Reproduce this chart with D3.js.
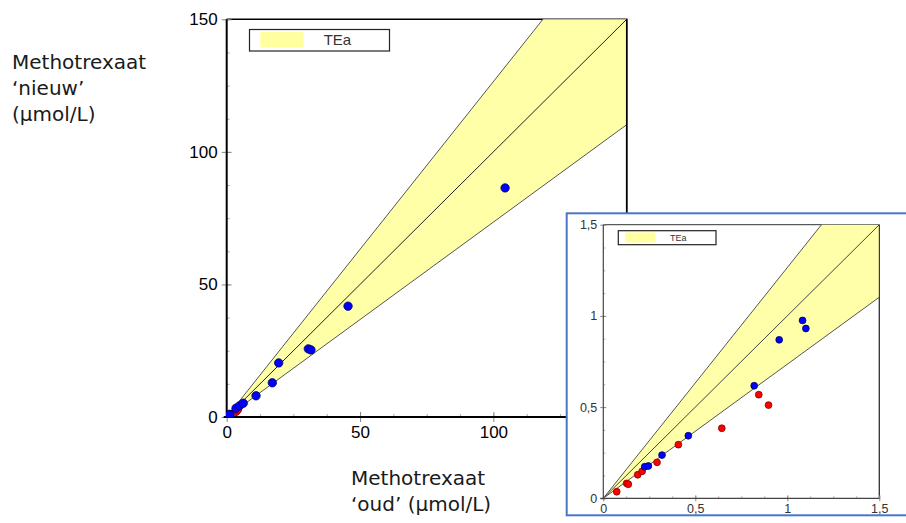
<!DOCTYPE html>
<html>
<head>
<meta charset="utf-8">
<script src="https://cdn.jsdelivr.net/npm/d3@7"></script>
<style>
  body { margin: 0; background: #fff; }
  svg { display: block; }
</style>
</head>
<body>
<div id="chart"></div>
<script>
// data (oud, nieuw) in umol/L
var mainTicks = [0, 50, 100, 150];
var mainTickLabels = ["0", "50", "100", "150"];
var insetTicks = [0, 0.5, 1, 1.5];
var insetTickLabels = ["0", "0,5", "1", "1,5"];

var tea = 0.265; // total allowable error, band around y = x

// low range samples (shown in the zoom inset)
var redLowX = [0.073, 0.127, 0.136, 0.187, 0.211, 0.292, 0.408, 0.644, 0.845, 0.898];
var redLowY = [0.036, 0.082, 0.077, 0.129, 0.148, 0.197, 0.294, 0.384, 0.568, 0.511];
var blueLowX = [0.225, 0.245, 0.319, 0.462, 0.820, 0.956, 1.083, 1.101];
var blueLowY = [0.173, 0.177, 0.237, 0.343, 0.617, 0.869, 0.975, 0.931];

// high range samples (main chart only)
var redHighX = [3.4, 4.0];
var redHighY = [2.1, 2.7];
var blueHighX = [3.5, 4.8, 6.2, 11.0, 17.1, 19.5, 30.6, 31.6, 45.5, 104.4];
var blueHighY = [3.3, 4.2, 5.2, 8.0, 12.9, 20.4, 25.7, 25.3, 41.8, 86.4];

var yTitle = ["Methotrexaat", "\u2018nieuw\u2019", "(\u00b5mol/L)"];
var xTitle = ["Methotrexaat", "\u2018oud\u2019 (\u00b5mol/L)"];
var legendLabel = "TEa";

var zip = function(xs, ys){ return xs.map(function(v, i){ return [v, ys[i]]; }); };

var svg = d3.select("#chart").append("svg")
    .attr("width", 906)
    .attr("height", 523);

// one scatter panel with the TEa band
var drawPanel = function(g, o){
    var x = d3.scaleLinear().domain([0, o.max]).range([o.left, o.right]);
    var y = d3.scaleLinear().domain([0, o.max]).range([o.bottom, o.top]);

    g.append("clipPath").attr("id", o.id + "_clip")
        .append("rect")
        .attr("x", o.left).attr("y", o.top)
        .attr("width", o.right - o.left).attr("height", o.bottom - o.top);

    // frame top + right
    g.append("path")
        .attr("d", "M" + o.left + "," + o.top + "H" + o.right + "V" + o.bottom)
        .attr("fill", "none")
        .attr("stroke", o.frame)
        .attr("stroke-width", o.frameW);

    var band = g.append("g").attr("clip-path", "url(#" + o.id + "_clip)");
    var m = o.max;
    band.append("path")
        .attr("d", d3.line()([[x(0), y(0)], [x(m), y(m * (1 + tea))], [x(m), y(m * (1 - tea))]]) + "Z")
        .attr("fill", o.bandFill)
        .attr("stroke", "none");
    [1 + tea, 1, 1 - tea].forEach(function(k){
        band.append("line")
            .attr("x1", x(0)).attr("y1", y(0))
            .attr("x2", x(m)).attr("y2", y(m * k))
            .attr("stroke", k == 1 ? o.midLine : o.bandLine)
            .attr("stroke-width", 1);
    });
    // right border drawn over the band
    g.append("line")
        .attr("x1", o.right).attr("x2", o.right)
        .attr("y1", o.top).attr("y2", o.bottom)
        .attr("stroke", o.frame).attr("stroke-width", o.frameW);

    // minor ticks
    var minor = d3.range(0, m + 1e-9, m / 12);
    g.append("g")
        .attr("transform", "translate(" + o.left + ",0)")
        .call(d3.axisRight(y).tickValues(minor).tickSize(o.minorLen).tickFormat(""))
        .call(function(a){ a.select(".domain").remove(); a.selectAll("line").attr("stroke", "#aaa"); });
    g.append("g")
        .attr("transform", "translate(0," + o.bottom + ")")
        .call(d3.axisTop(x).tickValues(minor).tickSize(o.minorLen).tickFormat(""))
        .call(function(a){ a.select(".domain").remove(); a.selectAll("line").attr("stroke", "#aaa"); });

    // major axes
    var yAxis = g.append("g")
        .attr("transform", "translate(" + o.left + ",0)")
        .call(d3.axisLeft(y).tickValues(o.ticks).tickSize(o.tickLen).tickPadding(o.pad)
            .tickFormat(function(d, i){ return o.labels[i]; }));
    var xAxis = g.append("g")
        .attr("transform", "translate(0," + o.bottom + ")")
        .call(d3.axisBottom(x).tickValues(o.ticks).tickSize(o.tickLen).tickPadding(o.pad)
            .tickFormat(function(d, i){ return o.labels[i]; }));
    yAxis.selectAll(".tick line").attr("x2", -o.tickLen).attr("x1", o.tickLen).attr("stroke", "#888");
    xAxis.selectAll(".tick line").attr("y2", o.tickLen).attr("y1", -o.tickLen).attr("stroke", "#888");
    [yAxis, xAxis].forEach(function(a){
        a.select(".domain").attr("d", null);
        a.selectAll("text")
            .attr("fill", o.tickColor)
            .style("font-family", "'Liberation Sans', Arial, sans-serif")
            .style("font-size", o.fontSize + "px");
    });
    // axis lines
    g.append("line")
        .attr("x1", o.left).attr("x2", o.left)
        .attr("y1", o.top).attr("y2", o.bottom + 1)
        .attr("stroke", o.axisColor).attr("stroke-width", o.axisW);
    g.append("line")
        .attr("x1", o.left - 3).attr("x2", o.right)
        .attr("y1", o.bottom).attr("y2", o.bottom)
        .attr("stroke", o.axisColor).attr("stroke-width", o.axisW);

    // points, red under blue
    var pts = g.append("g").attr("clip-path", "url(#" + o.id + "_clip)");
    [["red", o.red], ["blue", o.blue]].forEach(function(s){
        pts.selectAll("circle." + s[0])
            .data(s[1])
            .enter().append("circle")
            .attr("class", s[0])
            .attr("cx", function(d){ return x(d[0]); })
            .attr("cy", function(d){ return y(d[1]); })
            .attr("r", o.r)
            .attr("fill", s[0] == "red" ? "#ff0000" : "#0000ff")
            .attr("stroke", s[0] == "red" ? "#800000" : "#000060")
            .attr("stroke-width", 0.8);
    });

    // legend
    var lg = g.append("g");
    lg.append("rect")
        .attr("x", o.leg[0]).attr("y", o.leg[1])
        .attr("width", o.leg[2]).attr("height", o.leg[3])
        .attr("fill", "#fff").attr("stroke", "#222").attr("stroke-width", 1.2);
    lg.append("rect")
        .attr("x", o.leg[0] + o.leg[3] * 0.5).attr("y", o.leg[1] + o.leg[3] * 0.12)
        .attr("width", o.leg[2] * 0.31).attr("height", o.leg[3] * 0.72)
        .attr("fill", o.swatch);
    lg.append("text")
        .attr("x", o.leg[0] + o.leg[2] * 0.53)
        .attr("y", o.leg[1] + o.leg[3] * 0.7)
        .attr("fill", "#333")
        .style("font-family", "'Liberation Sans', Arial, sans-serif")
        .style("font-size", o.legFont + "px")
        .text(legendLabel);
};

// main chart
drawPanel(svg.append("g"), {
    id: "main", max: 150, left: 226.7, right: 626.7, top: 19.3, bottom: 417,
    ticks: mainTicks, labels: mainTickLabels,
    red: zip(redLowX, redLowY).concat(zip(redHighX, redHighY)),
    blue: zip(blueLowX, blueLowY).concat(zip(blueHighX, blueHighY)),
    r: 4.2, tickLen: 5, minorLen: 3, pad: 4, fontSize: 17, tickColor: "#000",
    axisColor: "#000", axisW: 2, frame: "#000", frameW: 1.5,
    bandFill: "#ffffa8", bandLine: "#555", midLine: "#222", swatch: "#ffffa0",
    leg: [249.5, 29.5, 140, 21.5], legFont: 15
});

// axis titles
var addTitle = function(lines, x0, y0){
    svg.append("text")
        .attr("x", x0)
        .attr("y", y0)
        .attr("fill", "#1a1a1a")
        .style("font-family", "'DejaVu Sans', sans-serif")
        .style("font-size", "20px")
        .selectAll("tspan")
        .data(lines)
        .enter().append("tspan")
        .attr("x", x0)
        .attr("dy", function(d, i){ return i == 0 ? 0 : 25.8; })
        .text(function(d){ return d; });
};
addTitle(yTitle, 12, 69);
addTitle(xTitle, 351, 485);

// zoom inset on top
var inset = svg.append("g");
inset.append("rect")
    .attr("x", 566.7).attr("y", 213.3)
    .attr("width", 345).attr("height", 302)
    .attr("fill", "#fff")
    .attr("stroke", "#4a76c8")
    .attr("stroke-width", 2);
drawPanel(inset, {
    id: "inset", max: 1.5, left: 603.3, right: 879.3, top: 224.7, bottom: 498.3,
    ticks: insetTicks, labels: insetTickLabels,
    red: zip(redLowX, redLowY), blue: zip(blueLowX, blueLowY),
    r: 3.4, tickLen: 3, minorLen: 2, pad: 3, fontSize: 12.5, tickColor: "#333",
    axisColor: "#444", axisW: 1.2, frame: "#333", frameW: 1,
    bandFill: "#ffffaa", bandLine: "#555", midLine: "#444", swatch: "#ffffa0",
    leg: [618.3, 230.7, 97.7, 14], legFont: 9
});
</script>
</body>
</html>
